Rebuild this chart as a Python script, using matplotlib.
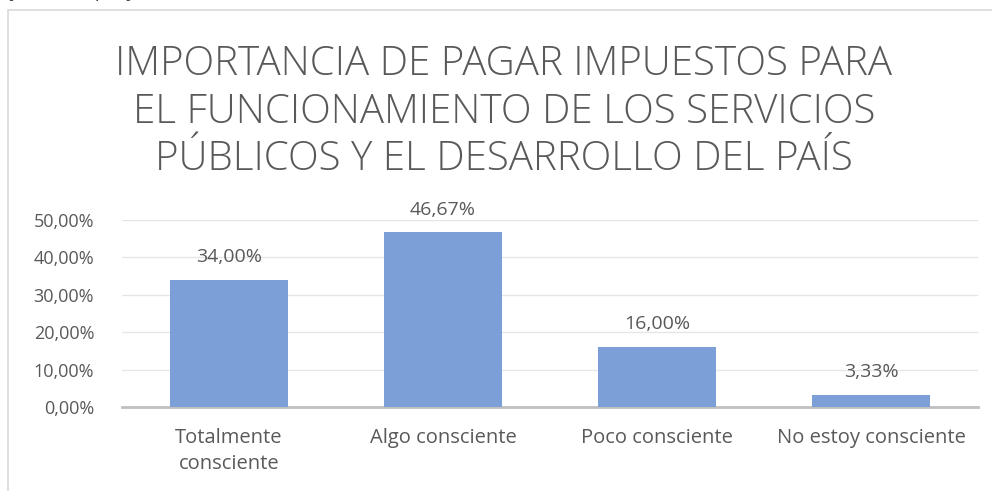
import matplotlib
matplotlib.use("Agg")
import matplotlib.pyplot as plt
from matplotlib.patches import Rectangle

categories = ["Totalmente\nconsciente", "Algo consciente", "Poco consciente", "No estoy consciente"]
values = [34.00, 46.67, 16.00, 3.33]
yticks = [0, 10, 20, 30, 40, 50]
title = "IMPORTANCIA DE PAGAR IMPUESTOS PARA\nEL FUNCIONAMIENTO DE LOS SERVICIOS\nPÚBLICOS Y EL DESARROLLO DEL PAÍS"

def fmt(v):
    return f"{v:.2f}".replace(".", ",") + "%"

plt.rcParams['font.family'] = ['Open Sans', 'DejaVu Sans']
txt = "#595959"

fig = plt.figure(figsize=(9.92, 4.91), dpi=100)
fig.patches.append(Rectangle((8/992, -0.1), 1.2, 1 - 10/491 + 0.1, transform=fig.transFigure,
                             fill=False, edgecolor="#d9d9d9", linewidth=1.2))
fig.text(0.0, 1.0 + 8/491, "ajaron los proyectos del estado", fontsize=14, color="#404040",
         ha="left", va="center")

ax = fig.add_axes([122/992, 1 - 407/491, 856/992, (407 - 220)/491])
x = list(range(len(categories)))
ax.bar(x, values, width=0.556, color="#7b9fd6", zorder=3)
ax.set_xlim(-0.5, len(categories) - 0.5)
ax.set_ylim(0, 50)
ax.set_yticks(yticks)
ax.set_yticklabels([fmt(v) for v in yticks], fontsize=13, color=txt)
ax.set_xticks(x)
ax.set_xticklabels(categories, fontsize=14.5, color=txt, linespacing=1.4)
ax.tick_params(axis="both", length=0)
ax.tick_params(axis="y", pad=20)
ax.tick_params(axis="x", pad=15)
ax.grid(axis="y", color="#e6e6e6", linewidth=1, zorder=0)
for s in ["top", "right", "left"]:
    ax.spines[s].set_visible(False)
ax.spines["bottom"].set_color("#bfbfbf")
ax.spines["bottom"].set_linewidth(2)
for xi, v in zip(x, values):
    ax.annotate(fmt(v), (xi, v), xytext=(0, 10), textcoords="offset points",
                ha="center", va="bottom", fontsize=14, color=txt)

fig.text(0.508, 1 - 112/491, title, ha="center", va="center", fontsize=29,
         color=txt, linespacing=1.2, fontweight="light")

fig.savefig("out.png", dpi=100)
